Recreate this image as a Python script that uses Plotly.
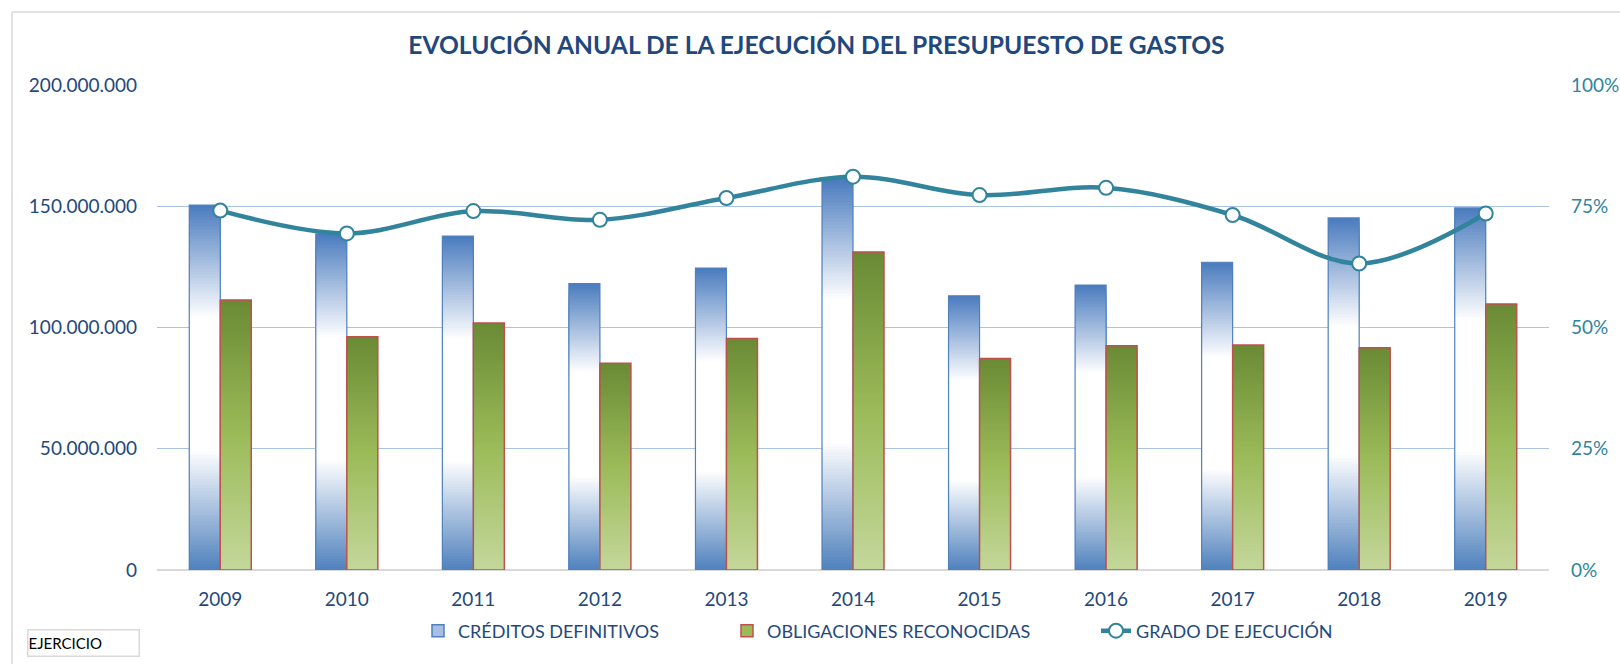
import numpy as np
import plotly.graph_objects as go

# ---------------- data ----------------
years = ["2009", "2010", "2011", "2012", "2013", "2014", "2015", "2016", "2017", "2018", "2019"]
creditos_definitivos = [150.5e6, 138.6e6, 137.7e6, 118.1e6, 124.5e6, 161.1e6, 113.1e6, 117.5e6, 126.9e6, 145.2e6, 149.3e6]
obligaciones_reconocidas = [111.3e6, 96.2e6, 101.9e6, 85.3e6, 95.5e6, 131.1e6, 87.2e6, 92.5e6, 92.8e6, 91.7e6, 109.7e6]
grado_ejecucion = [0.741, 0.694, 0.740, 0.722, 0.767, 0.811, 0.773, 0.788, 0.732, 0.632, 0.735]

series_names = ["CRÉDITOS DEFINITIVOS", "OBLIGACIONES RECONOCIDAS", "GRADO DE EJECUCIÓN"]
y_left_ticks = [0, 50e6, 100e6, 150e6, 200e6]
y_right_ticks = [0, 0.25, 0.5, 0.75, 1.0]

# ---------------- style ----------------
FONT = "Lato"
NAVY = "#1F497D"
TEAL = "#31849B"
BAR_W = 0.245
NSEG = 120

blue_stops = [(0.0, (74, 123, 190)), (0.31, (255, 255, 255)), (0.67, (255, 255, 255)), (1.0, (79, 129, 189))]
green_stops = [(0.0, (106, 138, 53)), (0.5, (155, 187, 89)), (1.0, (196, 215, 155))]


def grad_color(stops, t):
    for (t0, c0), (t1, c1) in zip(stops[:-1], stops[1:]):
        if t0 <= t <= t1:
            f = 0 if t1 == t0 else (t - t0) / (t1 - t0)
            c = [round(a + (b - a) * f) for a, b in zip(c0, c1)]
            return "rgb(%d,%d,%d)" % tuple(c)
    return "rgb(%d,%d,%d)" % stops[-1][1]


fig = go.Figure()


def add_gradient_bars(values, stops, offset, outline, outline_w):
    vals = np.array(values, dtype=float)
    # tallest (top colour) first, shorter ones drawn over it -> no seams
    for k in range(NSEG - 1, -1, -1):
        t_from_top = 1 - (k + 0.5) / NSEG
        fig.add_trace(go.Bar(
            x=years, y=vals * (k + 1) / NSEG, base=0,
            width=BAR_W, offset=offset,
            marker=dict(color=grad_color(stops, t_from_top), line=dict(width=0)),
            showlegend=False, hoverinfo="skip",
        ))
    fig.add_trace(go.Bar(
        x=years, y=vals, base=0, width=BAR_W, offset=offset,
        marker=dict(color="rgba(0,0,0,0)", line=dict(color=outline, width=outline_w)),
        showlegend=False, hoverinfo="x+y",
    ))


add_gradient_bars(creditos_definitivos, blue_stops, -BAR_W, "#4F81BD", 1.2)
add_gradient_bars(obligaciones_reconocidas, green_stops, 0, "#C0504D", 1.5)

# legend entries
fig.add_trace(go.Bar(x=[years[0]], y=[None], name=series_names[0], legend="legend",
                     marker=dict(color="#A7BFE3", line=dict(color="#4F81BD", width=1.5))))
fig.add_trace(go.Bar(x=[years[0]], y=[None], name=series_names[1], legend="legend2",
                     marker=dict(color="#9BBB59", line=dict(color="#C0504D", width=1.5))))

fig.add_trace(go.Scatter(
    x=years, y=grado_ejecucion, yaxis="y2", name=series_names[2], legend="legend3",
    mode="lines+markers",
    line=dict(color=TEAL, width=4.5, shape="spline", smoothing=1.0),
    marker=dict(size=14, color="white", line=dict(color=TEAL, width=2)),
))

W, H = 1620, 664
L, R, T, B = 157, 71, 85, 94
PW, PH = W - L - R, H - T - B


def px_x(x):
    return (x - L) / PW


def px_y(y):
    return (H - B - y) / PH


legend_common = dict(orientation="h", yanchor="middle", xanchor="left",
                     font=dict(family=FONT, size=18, color=NAVY),
                     bgcolor="rgba(0,0,0,0)", borderwidth=0)

fig.update_layout(
    width=W, height=H,
    margin=dict(l=L, r=R, t=T, b=B, autoexpand=False),
    paper_bgcolor="white", plot_bgcolor="white",
    separators=",.",
    barmode="overlay",
    font=dict(family=FONT, color=NAVY),
    title=dict(text="<b>EVOLUCIÓN ANUAL DE LA EJECUCIÓN DEL PRESUPUESTO DE GASTOS</b>",
               x=0.504, xref="container", xanchor="center",
               y=1 - 45.5 / H, yref="container", yanchor="middle",
               font=dict(family=FONT, size=24.6, color=NAVY)),
    xaxis=dict(type="category", range=[-0.5, len(years) - 0.5],
               showgrid=False, showline=False, ticks="",
               tickfont=dict(family=FONT, size=19, color=NAVY), ticklabelstandoff=16),
    yaxis=dict(range=[0, 200e6], tickvals=y_left_ticks, tickformat=",d",
               showgrid=True, gridcolor="#A9C3E6", gridwidth=1,
               zeroline=True, zerolinecolor="#D9D9D9", zerolinewidth=2,
               showline=False, ticks="", ticklabelstandoff=19,
               tickfont=dict(family=FONT, size=19, color=NAVY)),
    yaxis2=dict(range=[0, 1], tickvals=y_right_ticks, tickformat=".0%",
                overlaying="y", side="right", showgrid=False, zeroline=False,
                showline=False, ticks="", ticklabelstandoff=21,
                tickfont=dict(family=FONT, size=19, color=TEAL)),
    legend=dict(x=px_x(418), y=px_y(631), **legend_common),
    legend2=dict(x=px_x(727), y=px_y(631), **legend_common),
    legend3=dict(x=px_x(1096), y=px_y(631), **legend_common),
    showlegend=True,
    shapes=[
        dict(type="line", xref="paper", yref="paper", x0=px_x(12), x1=px_x(1640),
             y0=px_y(12), y1=px_y(12), line=dict(color="#D9D9D9", width=1.5)),
        dict(type="line", xref="paper", yref="paper", x0=px_x(12), x1=px_x(12),
             y0=px_y(12), y1=px_y(680), line=dict(color="#D9D9D9", width=1.5)),
    ],
    annotations=[
        dict(text="EJERCICIO", xref="paper", yref="paper",
             x=px_x(27), y=px_y(643), xanchor="left", yanchor="middle",
             showarrow=False, align="left", width=110, height=25,
             bordercolor="#D9D9D9", borderwidth=1.5, borderpad=0, bgcolor="white",
             font=dict(family=FONT, size=15, color="black")),
    ],
)

fig.write_html("out.html", config={"displayModeBar": False},
               post_script="document.body.style.margin='0px';")
